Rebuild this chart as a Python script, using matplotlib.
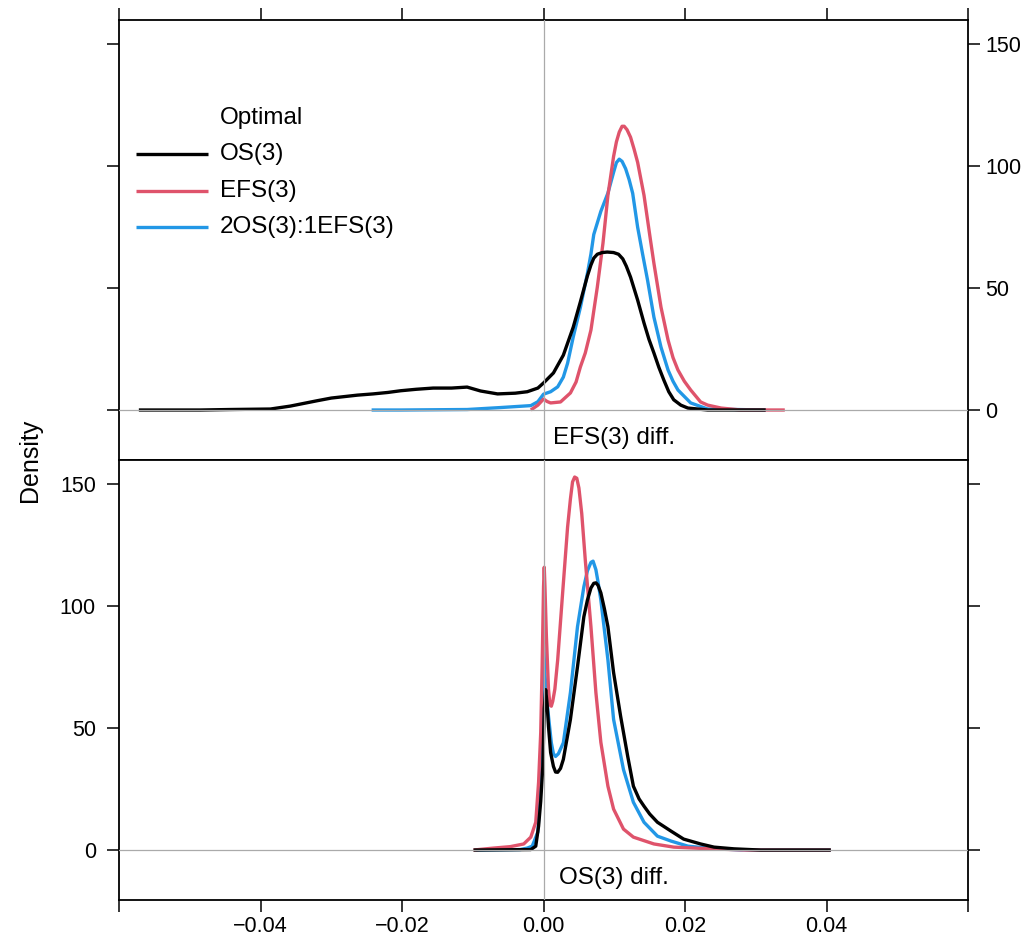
import matplotlib
matplotlib.use('Agg')
from matplotlib import pyplot as plt

plt.rcParams['font.family'] = ['Liberation Sans', 'DejaVu Sans']

# legend / groups
groups = ['OS(3)', 'EFS(3)', '2OS(3):1EFS(3)']
colors = ['#000000', '#DF536B', '#2297E6']
panels = ['EFS(3) diff.', 'OS(3) diff.']

x_ticks = [-0.06, -0.04, -0.02, 0.00, 0.02, 0.04, 0.06]
x_labels = ['', '\u22120.04', '\u22120.02', '0.00', '0.02', '0.04', '']
y_ticks = [0, 50, 100, 150]

# ---- panel EFS(3) diff. (top) ----
efs_os_x = [-0.0572, -0.0485, -0.0443, -0.0386, -0.0358, -0.0320, -0.0300, -0.0263,
            -0.0241, -0.0220, -0.0202, -0.0180, -0.0156, -0.0130, -0.0108, -0.0089,
            -0.0065, -0.0040, -0.0023, -0.0008, 0.0000, 0.0014, 0.0028, 0.0042,
            0.0052, 0.0062, 0.0067, 0.0071, 0.0076, 0.0083, 0.0090, 0.0099,
            0.0106, 0.0112, 0.0117, 0.0123, 0.0133, 0.0142, 0.0149, 0.0156,
            0.0163, 0.0170, 0.0177, 0.0184, 0.0194, 0.0204, 0.0232, 0.0314]
efs_os_y = [0, 0, 0.2, 0.4, 1.6, 3.8, 4.9, 6.1,
            6.6, 7.2, 7.9, 8.5, 9.0, 9.0, 9.4, 7.8,
            6.6, 6.9, 7.5, 9.0, 11.1, 15.2, 22.5, 34.0,
            44.3, 55.0, 59.5, 62.3, 63.9, 64.6, 64.8, 64.6,
            63.9, 62.0, 59.0, 54.5, 45.1, 35.7, 29.0, 23.4,
            17.5, 12.3, 7.5, 4.2, 2.0, 0.8, 0, 0]

efs_efs_x = [-0.0018, -0.0008, 0.0000, 0.0005, 0.0010, 0.0024, 0.0038, 0.0046,
             0.0052, 0.0059, 0.0067, 0.0076, 0.0084, 0.0091, 0.0099, 0.0103,
             0.0107, 0.0111, 0.0114, 0.0118, 0.0123, 0.0128, 0.0133, 0.0142,
             0.0151, 0.0156, 0.0166, 0.0176, 0.0183, 0.0190, 0.0199, 0.0208,
             0.0222, 0.0232, 0.0251, 0.0279, 0.0341]
efs_efs_y = [0, 2.0, 4.5, 3.5, 2.9, 3.3, 7.0, 11.5,
             17.6, 23.4, 32.8, 50.4, 68.4, 88.1, 104.0, 110.0,
             114.0, 116.4, 116.4, 115.0, 111.9, 107.0, 101.6, 88.1,
             70.0, 60.2, 42.2, 28.7, 21.5, 16.4, 11.8, 8.2,
             3.3, 2.0, 0.8, 0, 0]

efs_mix_x = [-0.0243, -0.0202, -0.0108, -0.0061, -0.0018, -0.0008, 0.0000, 0.0010,
             0.0020, 0.0028, 0.0034, 0.0042, 0.0052, 0.0062, 0.0067, 0.0071,
             0.0081, 0.0091, 0.0099, 0.0103, 0.0107, 0.0111, 0.0116, 0.0121,
             0.0126, 0.0133, 0.0140, 0.0147, 0.0156, 0.0166, 0.0176, 0.0183,
             0.0190, 0.0208, 0.0232, 0.0314]
efs_mix_y = [0, 0, 0.2, 1.0, 1.8, 3.4, 6.5, 7.5,
             9.5, 13.5, 19.2, 30.0, 42.0, 56.0, 64.0, 72.0,
             81.5, 89.0, 97.5, 101.5, 102.9, 102.0, 99.0, 94.5,
             88.9, 75.0, 64.0, 53.3, 38.1, 25.8, 16.4, 11.8,
             8.2, 2.9, 0.4, 0]

# ---- panel OS(3) diff. (bottom) ----
os_os_x = [-0.0099, -0.0018, -0.0011, -0.0007, -0.0004, -0.0001, 0.0001, 0.0003,
           0.0005, 0.0007, 0.0010, 0.0014, 0.0017, 0.0020, 0.0024, 0.0028,
           0.0038, 0.0048, 0.0057, 0.0062, 0.0067, 0.0071, 0.0074, 0.0077,
           0.0081, 0.0086, 0.0091, 0.0099, 0.0109, 0.0119, 0.0127, 0.0135, 0.0142,
           0.0150, 0.0161, 0.0180, 0.0198, 0.0222, 0.0241, 0.0269, 0.0307, 0.0406]
os_os_y = [0, 0.2, 1.6, 9.8, 20.0, 34.3, 58.0, 65.8,
           60.0, 50.7, 40.0, 34.3, 32.0, 31.9, 33.5, 37.2,
           53.6, 75.2, 95.7, 102.5, 107.5, 109.4, 109.6, 108.6,
           105.5, 99.0, 91.6, 72.8, 54.8, 38.4, 26.2, 21.0, 18.0,
           14.8, 11.4, 7.8, 4.5, 2.5, 1.2, 0.5, 0, 0]

os_efs_x = [-0.0099, -0.0071, -0.0047, -0.0028, -0.0018, -0.0011, -0.0007, -0.0004,
            -0.0002, 0.0000, 0.0001, 0.0002, 0.0004, 0.0007, 0.0009, 0.0011,
            0.0013, 0.0016, 0.0020, 0.0027, 0.0034, 0.0038, 0.0041, 0.0044,
            0.0047, 0.0050, 0.0054, 0.0059, 0.0067, 0.0074, 0.0081, 0.0091,
            0.0099, 0.0113, 0.0127, 0.0156, 0.0184, 0.0236, 0.0286, 0.0406]
os_efs_y = [0, 0.8, 1.4, 2.5, 5.3, 11.4, 27.8, 48.0,
            75.0, 108.0, 116.0, 108.0, 88.0, 66.0, 59.5, 59.0,
            61.0, 66.0, 78.0, 105.5, 132.5, 144.0, 151.0, 153.0,
            152.5, 148.5, 138.0, 119.0, 91.6, 64.6, 44.2, 26.2,
            16.8, 8.6, 5.3, 2.5, 1.2, 0.5, 0, 0]

os_mix_x = [-0.0096, -0.0033, -0.0023, -0.0016, -0.0008, -0.0004, -0.0001, 0.0000,
            0.0002, 0.0006, 0.0011, 0.0014, 0.0017, 0.0021, 0.0028, 0.0038,
            0.0048, 0.0057, 0.0062, 0.0067, 0.0070, 0.0074, 0.0077, 0.0081,
            0.0091, 0.0099, 0.0113, 0.0127, 0.0142, 0.0161, 0.0180, 0.0204,
            0.0232, 0.0279, 0.0406]
os_mix_y = [0, 0.2, 0.8, 1.6, 7.4, 27.8, 55.0, 85.0,
            72.0, 57.6, 44.0, 39.5, 38.4, 39.5, 44.0, 64.6,
            91.6, 108.0, 114.5, 118.0, 118.5, 115.0, 110.0, 102.6,
            78.0, 53.6, 33.0, 19.6, 11.4, 5.7, 3.7, 1.6,
            0.8, 0, 0]

top_curves = [(efs_os_x, efs_os_y), (efs_efs_x, efs_efs_y), (efs_mix_x, efs_mix_y)]
bot_curves = [(os_os_x, os_os_y), (os_efs_x, os_efs_y), (os_mix_x, os_mix_y)]

fig = plt.figure(figsize=(10.36, 9.48), dpi=100)
ax_top = fig.add_axes([0.1149, 0.5148, 0.8195, 0.4641])
ax_bot = fig.add_axes([0.1149, 0.0506, 0.8195, 0.4642])

z_order = [4, 3, 2]  # black on top, then red, then blue
for ax, curves, title in [(ax_top, top_curves, panels[0]), (ax_bot, bot_curves, panels[1])]:
    for (xs, ys), c, z in zip(curves, colors, z_order):
        ax.plot(xs, ys, color=c, lw=2.4, zorder=z, solid_joinstyle='round',
                solid_capstyle='butt')
    ax.axvline(0, color='#aaaaaa', lw=0.9, zorder=6)
    ax.axhline(0, color='#aaaaaa', lw=0.9, zorder=6)
    ax.set_xlim(-0.06, 0.06)
    ax.set_ylim(-20.5, 160)
    ax.set_xticks(x_ticks)
    ax.set_yticks(y_ticks)
    for s in ax.spines.values():
        s.set_linewidth(1.3)
    ax.text(0.01, -11.5, title, ha='center', va='center', fontsize=17.5)

ax_top.set_xticklabels([])
ax_top.tick_params(axis='x', bottom=False, top=True, labelbottom=False, labeltop=False,
                   direction='out', length=8.6, width=1.1)
ax_top.tick_params(axis='y', left=True, right=True, labelleft=False, labelright=True,
                   direction='out', length=8.6, width=1.1, labelsize=15.5, pad=4)

ax_bot.set_xticklabels(x_labels)
ax_bot.tick_params(axis='x', bottom=True, top=False, labelbottom=True,
                   direction='out', length=8.6, width=1.1, labelsize=15.5, pad=3)
ax_bot.tick_params(axis='y', left=True, right=True, labelleft=True, labelright=False,
                   direction='out', length=8.6, width=1.1, labelsize=15.5, pad=8)

# legend, lattice style
ax_top.text(0.119, 0.777, 'Optimal', transform=ax_top.transAxes, fontsize=17.5,
            ha='left', va='center')
leg_y = [0.696, 0.611, 0.530]
for lab, c, yy in zip(groups, colors, leg_y):
    ax_top.plot([0.020, 0.1048], [yy, yy], color=c, lw=2.4, transform=ax_top.transAxes,
                solid_capstyle='butt')
    ax_top.text(0.119, yy, lab, transform=ax_top.transAxes, fontsize=17.5,
                ha='left', va='center')

fig.text(0.029, 0.5148, 'Density', rotation=90, ha='center', va='center', fontsize=18)

fig.savefig('out.png', dpi=100)
